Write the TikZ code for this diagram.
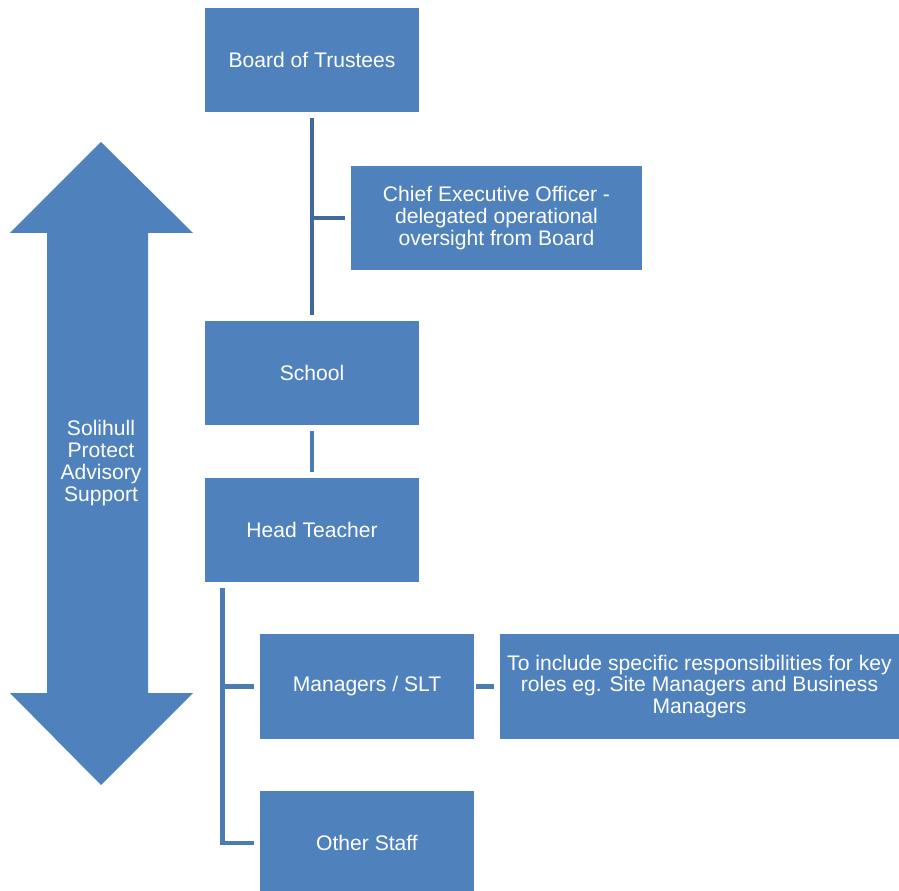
\documentclass[tikz,border=0pt]{standalone}
\usepackage{fontspec}
\setmainfont{Liberation Sans}
\usetikzlibrary{positioning}

\definecolor{boxblue}{RGB}{79,129,189}
\definecolor{linkdark}{RGB}{65,105,156}
\definecolor{linkblue}{RGB}{74,123,180}

\tikzset{
  role/.style={fill=boxblue, text=white, align=center, inner sep=0pt,
    minimum width=5.35cm, minimum height=2.6cm,
    font=\fontsize{15}{15.6}\selectfont},
  link/.style={draw=linkblue, line width=3.5pt},
}

\begin{document}
\begin{tikzpicture}[x=0.025cm, y=-0.025cm]
\useasboundingbox (0,0) rectangle (899,891);

% Advisory arrow
\fill[boxblue] (101,142) -- (193,233) -- (148,233) -- (148,693) -- (193,693)
  -- (101,785) -- (10,693) -- (47,693) -- (47,233) -- (10,233) -- cycle;
\node[text=white, align=center, font=\fontsize{15}{15.6}\selectfont] (advice) at (101,463)
  {Solihull\\Protect\\Advisory\\Support};

% Board and CEO
\node[role] (board) at (312,60) {Board of Trustees};
\node[role, minimum width=7.275cm] (ceo) at (496.5,218)
  {Chief Executive Officer -\\delegated operational\\oversight from Board};

% School and Head Teacher
\node[role] (school) at (312,373) {School};
\node[role] (head) at (312,530) {Head Teacher};

% Staff
\node[role] (mgr) at (367,686.5) {Managers / SLT};
\node[role] (other) at (367,843) {Other Staff};
\node[role, minimum width=9.975cm] (resp) at (699.5,686.5)
  {To include specific responsibilities for key\\roles eg. Site Managers and Business\\Managers};

% Connectors
\draw[link, draw=linkdark] ([yshift=-0.15cm]board.south) -- ([yshift=0.15cm]school.north);
\coordinate (cj) at (board.south |- ceo.west);
\draw[link, draw=linkdark] (cj) -- ([xshift=-0.15cm]ceo.west);
\draw[link] ([yshift=-0.15cm]school.south) -- ([yshift=0.15cm]head.north);
\draw[link] ([xshift=0.45cm,yshift=-0.15cm]head.south west) |- ([xshift=-0.15cm]other.west);
\coordinate (hj) at ([xshift=0.45cm]head.south west |- mgr.west);
\draw[link] (hj) -- ([xshift=-0.15cm]mgr.west);
\draw[link] ([xshift=0.05cm]mgr.east) -- ([xshift=-0.15cm]resp.west);
\end{tikzpicture}
\end{document}
